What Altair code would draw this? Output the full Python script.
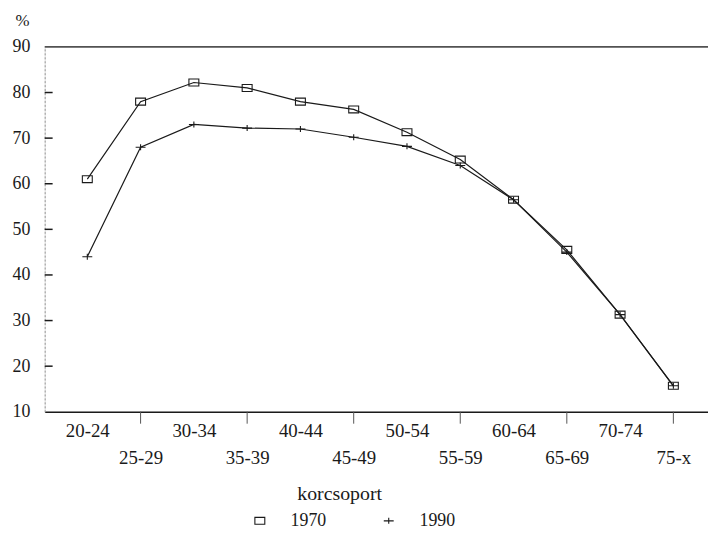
import altair as alt
import pandas as pd

categories = ["20-24", "25-29", "30-34", "35-39", "40-44", "45-49",
              "50-54", "55-59", "60-64", "65-69", "70-74", "75-x"]
v1970 = [61, 78, 82.2, 81, 78, 76.3, 71.3, 65.3, 56.5, 45.5, 31.3, 15.7]
v1990 = [44, 68, 73, 72.2, 72, 70.2, 68.2, 64, 56.5, 45, 31.3, 15.7]
years = ["1970", "1990"]
y_ticks = [20, 30, 40, 50, 60, 70, 80]

W, H = 669, 368
FONT = "Liberation Serif"
INK = "#1a1a1a"

rows = []
for i, (c, a, b) in enumerate(zip(categories, v1970, v1990)):
    rows.append({"i": i, "kor": c, "ev": "1970", "v": a})
    rows.append({"i": i, "kor": c, "ev": "1990", "v": b})
df = pd.DataFrame(rows)

cats_js = "[" + ",".join("'" + c + "'" for c in categories) + "]"

xscale = alt.Scale(domain=[-0.8, 11.65], nice=False, zero=False)
yscale = alt.Scale(domain=[10, 90], nice=False)

SQUARE = "M-1,-0.7H1V0.7H-1Z"
PLUS = "M-1,0H1M0,-0.6V0.6"

x_axis = alt.Axis(
    title="korcsoport", titleFont=FONT, titleFontSize=20, titleFontWeight="normal",
    titleColor=INK, titleX=297, titleY=72, titleAlign="center",
    values=list(range(len(categories))),
    labelFont=FONT, labelFontSize=19, labelColor=INK, labelAngle=0,
    labelPadding=10, labelLineHeight=27, labelBaseline="top", labelFlush=False,
    labelOverlap=False,
    labelExpr="datum.value % 2 == 1 ? ['', " + cats_js + "[datum.value]] : " + cats_js + "[datum.value]",
    ticks=False, tickSize=0, domainColor=INK, domainWidth=1.5, grid=False,
)
y_axis = alt.Axis(
    title="%", titleAngle=0, titleX=-30, titleY=-27, titleAlign="left",
    titleBaseline="middle", titleFont=FONT, titleFontSize=17,
    titleFontWeight="normal", titleColor=INK,
    values=[10, 20, 30, 40, 50, 60, 70, 80, 90],
    labelFont=FONT, labelFontSize=18, labelColor=INK, labelPadding=15,
    ticks=False, tickSize=0, domainColor="#999999", domainDash=[2, 2],
    grid=False,
)

base = alt.Chart(df)

lines = base.mark_line(color=INK, strokeWidth=1.2).encode(
    x=alt.X("i:Q", scale=xscale, axis=x_axis),
    y=alt.Y("v:Q", scale=yscale, axis=y_axis),
    detail="ev:N",
)

points = base.mark_point(filled=False, color=INK, strokeWidth=1.1, size=100, opacity=1).encode(
    x=alt.X("i:Q", scale=xscale),
    y=alt.Y("v:Q", scale=yscale),
    shape=alt.Shape("ev:N", scale=alt.Scale(domain=years, range=[SQUARE, PLUS]),
                    legend=alt.Legend(orient="none", legendX=208, legendY=469,
                                      direction="horizontal", title=None,
                                      labelFont=FONT, labelFontSize=18,
                                      labelColor=INK, labelOffset=22,
                                      columnPadding=54, symbolSize=100,
                                      symbolStrokeColor=INK, symbolStrokeWidth=1.1,
                                      symbolFillColor="transparent")),
)

top_df = pd.DataFrame({"v": [90]})
top_rule = alt.Chart(top_df).mark_rule(color=INK, strokeWidth=1.3).encode(
    y=alt.Y("v:Q", scale=yscale), x=alt.value(0), x2=alt.value(W)
)

yt_df = pd.DataFrame({"v": y_ticks})
y_tick_rules = alt.Chart(yt_df).mark_rule(color=INK, strokeWidth=1.5).encode(
    y=alt.Y("v:Q", scale=yscale), x=alt.value(0), x2=alt.value(8)
)

xt_df = pd.DataFrame({"i": list(range(1, len(categories), 2))})
x_tick_rules = alt.Chart(xt_df).mark_rule(color="#555555", strokeWidth=1).encode(
    x=alt.X("i:Q", scale=xscale),
    y=alt.value(H), y2=alt.value(H + 12)
)

chart = alt.layer(top_rule, y_tick_rules, x_tick_rules, lines, points).properties(
    width=W, height=H,
    padding={"left": 37, "top": 37, "right": 0, "bottom": 118},
    autosize=alt.AutoSizeParams(type="none"),
).configure_view(stroke=None).configure(background="white")

chart.save("out.html", embed_options={"renderer": "svg", "actions": False})
